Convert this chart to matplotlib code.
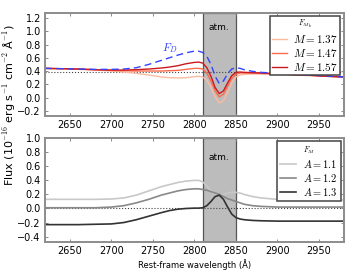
import matplotlib
matplotlib.use("Agg")
import matplotlib.pyplot as plt

plt.rcParams['mathtext.fontset'] = 'cm'
plt.rcParams['font.family'] = ['DejaVu Sans']

wl = [2620, 2640, 2660, 2680, 2700, 2715, 2730, 2745, 2760, 2770, 2780, 2790,
      2800, 2805, 2810, 2815, 2820, 2825, 2830, 2835, 2840, 2845, 2850, 2855,
      2860, 2870, 2880, 2900, 2920, 2940, 2960, 2980]

f_d = [0.44, 0.435, 0.43, 0.425, 0.425, 0.43, 0.45, 0.50, 0.56, 0.60, 0.64, 0.675,
       0.70, 0.70, 0.68, 0.62, 0.50, 0.32, 0.21, 0.25, 0.36, 0.43, 0.45, 0.44,
       0.42, 0.395, 0.38, 0.365, 0.35, 0.34, 0.325, 0.31]

m157 = [0.44, 0.435, 0.43, 0.42, 0.415, 0.415, 0.42, 0.43, 0.445, 0.46, 0.48, 0.51,
        0.53, 0.535, 0.52, 0.45, 0.32, 0.15, 0.06, 0.10, 0.22, 0.33, 0.38, 0.385,
        0.38, 0.375, 0.37, 0.36, 0.345, 0.335, 0.32, 0.31]
m147 = [0.44, 0.435, 0.43, 0.42, 0.41, 0.405, 0.40, 0.40, 0.40, 0.405, 0.41, 0.425,
        0.44, 0.44, 0.43, 0.37, 0.25, 0.10, 0.01, 0.05, 0.17, 0.29, 0.35, 0.37,
        0.37, 0.37, 0.365, 0.355, 0.345, 0.335, 0.32, 0.31]
m137 = [0.44, 0.435, 0.425, 0.415, 0.40, 0.385, 0.365, 0.34, 0.31, 0.30, 0.295, 0.30,
        0.315, 0.32, 0.31, 0.26, 0.15, 0.01, -0.08, -0.05, 0.08, 0.22, 0.31, 0.34,
        0.35, 0.355, 0.355, 0.35, 0.34, 0.33, 0.32, 0.31]

a11 = [0.13, 0.13, 0.13, 0.13, 0.135, 0.15, 0.19, 0.25, 0.31, 0.34, 0.37, 0.39,
       0.40, 0.40, 0.38, 0.32, 0.25, 0.20, 0.19, 0.20, 0.22, 0.23, 0.23, 0.22,
       0.20, 0.17, 0.15, 0.13, 0.12, 0.12, 0.12, 0.12]
a12 = [0.01, 0.01, 0.01, 0.01, 0.02, 0.04, 0.08, 0.13, 0.19, 0.22, 0.25, 0.27,
       0.28, 0.28, 0.27, 0.26, 0.24, 0.22, 0.20, 0.17, 0.14, 0.12, 0.10, 0.08,
       0.06, 0.04, 0.03, 0.02, 0.02, 0.02, 0.02, 0.02]
a13 = [-0.23, -0.23, -0.23, -0.225, -0.22, -0.20, -0.16, -0.11, -0.06, -0.03, -0.01, 0.0,
       0.005, 0.005, 0.01, 0.04, 0.10, 0.17, 0.19, 0.13, 0.02, -0.08, -0.13, -0.15,
       -0.16, -0.17, -0.175, -0.18, -0.18, -0.18, -0.18, -0.18]

top_labels = ['$M=1.37$', '$M=1.47$', '$M=1.57$']
bot_labels = ['$A=1.1$', '$A=1.2$', '$A=1.3$']
xticks = [2650, 2700, 2750, 2800, 2850, 2900, 2950]
top_yticks = [-0.2, 0.0, 0.2, 0.4, 0.6, 0.8, 1.0, 1.2]
bot_yticks = [-0.4, -0.2, 0.0, 0.2, 0.4, 0.6, 0.8, 1.0]

fig = plt.figure(figsize=(3.6, 2.7), dpi=100)
ax1 = fig.add_axes([0.125, 0.570, 0.830, 0.383])
ax2 = fig.add_axes([0.125, 0.103, 0.830, 0.385])

spine_col = '#8c8c8c'
for ax in (ax1, ax2):
    for s in ax.spines.values():
        s.set_color(spine_col)
        s.set_linewidth(1.4)
    ax.tick_params(direction='in', length=2.5, width=0.6, color='#777777',
                   top=True, right=True, labelsize=7, pad=3)
    ax.axvspan(2810, 2850, facecolor='#bcbcbc', edgecolor='#555555', lw=0.9, zorder=0)
    ax.set_xlim(2620, 2980)
    ax.set_xticks(xticks)

# top panel
ax1.axhline(0.38, color='#444444', ls=':', lw=0.8, zorder=1)
ax1.plot(wl, m137, color='#fcbba1', lw=1.0, label=top_labels[0])
ax1.plot(wl, m147, color='#fb6a4a', lw=1.0, label=top_labels[1])
ax1.plot(wl, m157, color='#cb181d', lw=1.0, label=top_labels[2])
ax1.plot(wl, f_d, color='#3344ff', lw=1.0, ls=(0, (5, 3)))
ax1.text(2770, 0.74, '$F_D$', color='#3344ff', fontsize=8, ha='center', va='center')
ax1.text(2830, 1.06, 'atm.', fontsize=6.5, ha='center', va='center')
ax1.set_ylim(-0.28, 1.28)
ax1.set_yticks(top_yticks)
leg1 = ax1.legend(loc='upper right', fontsize=8, title='$F_{M_\\mathrm{b}}$',
                  title_fontsize=5.5, handlelength=1.3, labelspacing=0.2,
                  borderpad=0.2, handletextpad=0.6, fancybox=False, framealpha=1,
                  bbox_to_anchor=(1.0, 1.0), borderaxespad=0.3)
leg1.get_frame().set_edgecolor('#444444')
leg1.get_frame().set_linewidth(1.1)

# bottom panel
ax2.axhline(0.0, color='#444444', ls=':', lw=0.8, zorder=1)
ax2.plot(wl, a11, color='#c8c8c8', lw=1.2, label=bot_labels[0])
ax2.plot(wl, a12, color='#888888', lw=1.2, label=bot_labels[1])
ax2.plot(wl, a13, color='#333333', lw=1.2, label=bot_labels[2])
ax2.text(2830, 0.72, 'atm.', fontsize=6.5, ha='center', va='center')
ax2.set_ylim(-0.48, 1.0)
ax2.set_yticks(bot_yticks)
leg2 = ax2.legend(loc='upper right', fontsize=7.5, title='$F_M$',
                  title_fontsize=5.5, handlelength=1.5, labelspacing=0.2,
                  borderpad=0.3, handletextpad=0.7, fancybox=False, framealpha=1,
                  bbox_to_anchor=(1.0, 1.0), borderaxespad=0.3)
leg2.get_frame().set_edgecolor('#444444')
leg2.get_frame().set_linewidth(1.1)
ax2.set_xlabel('Rest-frame wavelength (Å)', fontsize=6, labelpad=2)

fig.text(0.028, 0.61, 'Flux (10$^{-16}$ erg s$^{-1}$ cm$^{-2}$ Å$^{-1}$)',
         rotation=90, ha='center', va='center', fontsize=8)

fig.savefig('out.png', dpi=100)
